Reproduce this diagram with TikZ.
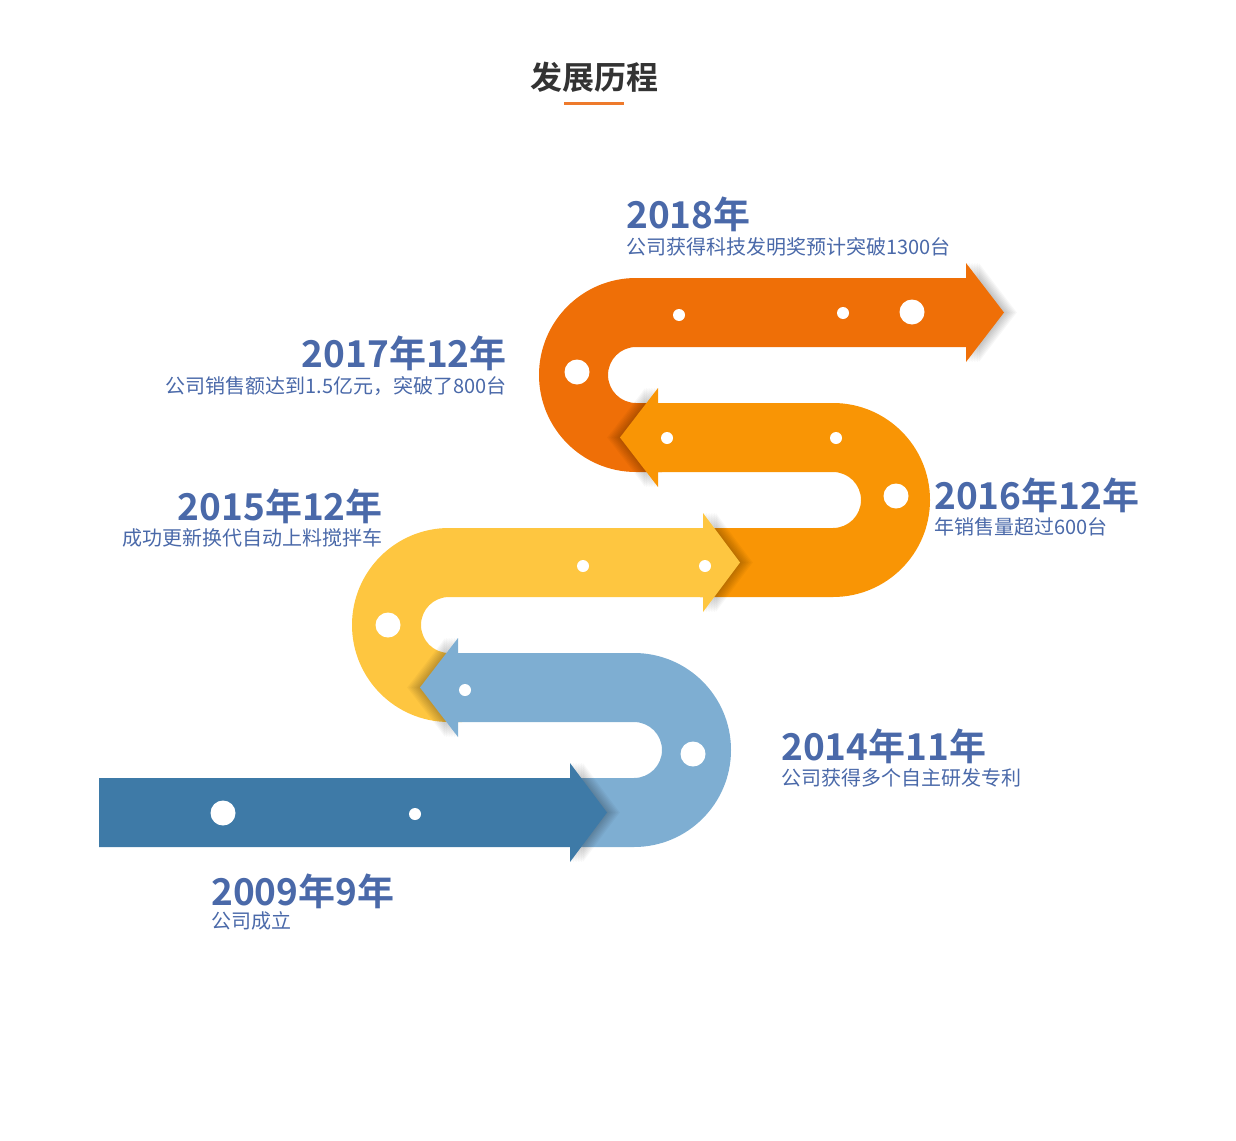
\documentclass[tikz,border=0pt]{standalone}
\usepackage{fontspec}
\setmainfont{Noto Sans CJK SC}[BoldFont={Noto Sans CJK SC Bold}]
\definecolor{band18}{HTML}{EF6F07}
\definecolor{band16}{HTML}{F99505}
\definecolor{band15}{HTML}{FEC640}
\definecolor{band14}{HTML}{7EAED2}
\definecolor{band09}{HTML}{3E7AA7}
\definecolor{yearblue}{HTML}{4A69A9}
\definecolor{titlegray}{HTML}{333333}
\definecolor{lineorange}{HTML}{EE7A2C}
\tikzset{
  year/.style={text=yearblue,inner sep=0pt,font=\bfseries\fontsize{37}{40}\selectfont},
  note/.style={text=yearblue,inner sep=0pt,font=\fontsize{20}{22}\selectfont},
  dot/.style={fill=white}
}
\newcommand{\headshadow}[3]{%
  \foreach \d in {1,...,8}
    \fill[black,opacity=0.03,shift={({\d*1.6*sign(#2-#1)},0)}]
      (#1,{-#3+49.5}) -- (#2,-#3) -- (#1,{-#3-49.5}) -- cycle;}
\begin{document}
\begin{tikzpicture}[x=1pt,y=1pt]
\useasboundingbox (0,0) rectangle (1236,-1140);
\node[anchor=base,text=titlegray,inner sep=0pt,font=\bfseries\fontsize{32}{34}\selectfont] (title) at (594,-89) {发展历程};
\draw[lineorange,line width=3pt] (564,-103.5) -- (624,-103.5);

\headshadow{966}{1004}{312.5}
\fill[band18] (966,-278) -- (636,-278) arc[start angle=90,end angle=270,radius=97] -- (662,-472) -- (662,-403) -- (636,-403) arc[start angle=270,end angle=90,radius=28] -- (966,-347) -- (966,-362) -- (1004,-312.5) -- (966,-263) -- cycle;
\fill[dot] (679,-315) circle (6) (843,-313) circle (6) (912,-312) circle (12.5) (577,-372) circle (12.5);

\headshadow{658}{620}{437.5}
\fill[band16] (658,-403) -- (833,-403) arc[start angle=90,end angle=-90,radius=97] -- (700,-597) -- (700,-528) -- (833,-528) arc[start angle=-90,end angle=90,radius=28] -- (658,-472) -- (658,-487) -- (620,-437.5) -- (658,-388) -- cycle;
\fill[dot] (667,-438) circle (6) (836,-438) circle (6) (896,-496) circle (12.5);

\headshadow{703}{740}{562.5}
\fill[band15] (703,-528) -- (449,-528) arc[start angle=90,end angle=270,radius=97] -- (462,-722) -- (462,-653) -- (449,-653) arc[start angle=270,end angle=90,radius=28] -- (703,-597) -- (703,-612) -- (740,-562.5) -- (703,-513) -- cycle;
\fill[dot] (583,-566) circle (6) (705,-566) circle (6) (388,-625) circle (12.5);

\headshadow{458}{420}{687.5}
\fill[band14] (458,-653) -- (634,-653) arc[start angle=90,end angle=-90,radius=97] -- (575,-847) -- (575,-778) -- (634,-778) arc[start angle=-90,end angle=90,radius=28] -- (458,-722) -- (458,-737) -- (420,-687.5) -- (458,-638) -- cycle;
\fill[dot] (465,-690) circle (6) (693,-754) circle (12.5);

\headshadow{570}{607}{812.5}
\fill[band09] (99,-778) -- (570,-778) -- (570,-763) -- (607,-812.5) -- (570,-862) -- (570,-847) -- (99,-847) -- cycle;
\fill[dot] (223,-813) circle (12.5) (415,-814) circle (6);

\node[year,anchor=base west] (y18) at (626,-228) {2018年};
\node[note,anchor=base west] (n18) at (626,-254) {公司获得科技发明奖预计突破1300台};
\node[year,anchor=base east] (y17) at (507,-367) {2017年12年};
\node[note,anchor=base east] (n17) at (507,-393) {公司销售额达到1.5亿元，突破了800台};
\node[year,anchor=base west] (y16) at (934,-509) {2016年12年};
\node[note,anchor=base west] (n16) at (934,-534) {年销售量超过600台};
\node[year,anchor=base east] (y15) at (383,-520) {2015年12年};
\node[note,anchor=base east] (n15) at (383,-545) {成功更新换代自动上料搅拌车};
\node[year,anchor=base west] (y14) at (781,-760) {2014年11年};
\node[note,anchor=base west] (n14) at (781,-785) {公司获得多个自主研发专利};
\node[year,anchor=base west] (y09) at (211,-905) {2009年9年};
\node[note,anchor=base west] (n09) at (211,-928) {公司成立};
\end{tikzpicture}
\end{document}
